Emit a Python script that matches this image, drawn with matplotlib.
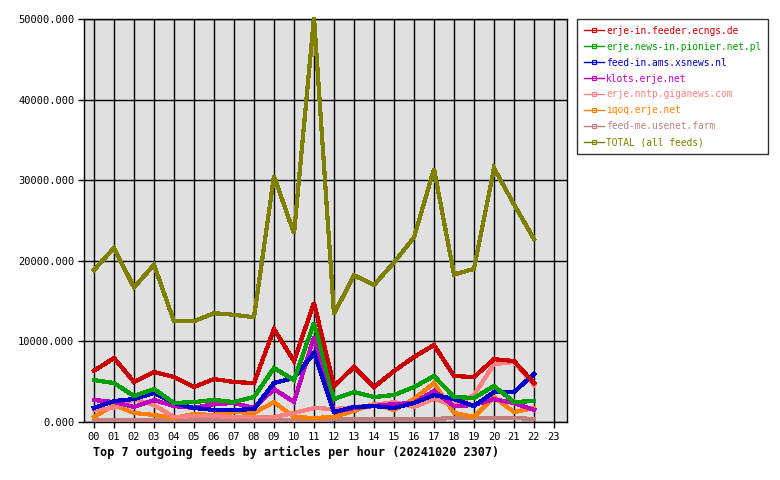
import matplotlib
matplotlib.use("Agg")
import matplotlib.pyplot as plt
from matplotlib.lines import Line2D

# hours on the x axis
HOURS = [f"{h:02d}" for h in range(24)]

# articles per hour (hours 00..22)
ecngs = [6360, 7930, 4960, 6200, 5580, 4340, 5330, 4960, 4840, 11530, 7560, 14800,
         4460, 6820, 4340, 6320, 8060, 9550, 5700, 5580, 7800, 7560, 4840]
pionier = [5200, 4840, 3220, 4090, 2350, 2480, 2730, 2480, 3100, 6700, 5200, 12300,
           2850, 3720, 3100, 3350, 4340, 5700, 3100, 2980, 4460, 2480, 2600]
xsnews = [1740, 2600, 2850, 3600, 2350, 1740, 1490, 1490, 1610, 4840, 5460, 8560,
          1240, 1860, 1980, 1740, 2350, 3350, 2850, 1980, 3720, 3720, 5950]
klots = [2730, 2480, 1860, 2730, 1980, 1740, 2230, 2350, 1740, 4090, 2480, 10540,
         1240, 1740, 1980, 2230, 2350, 3840, 1980, 2100, 2850, 2350, 1490]
giganews = [1490, 1740, 2850, 2100, 620, 740, 740, 620, 620, 620, 1120, 1740,
            1610, 1860, 2100, 2480, 1860, 2850, 2100, 3350, 7190, 7440, 4590]
iqoq = [620, 2100, 1120, 870, 500, 990, 870, 1240, 1120, 2480, 620, 500,
        620, 1360, 2230, 1490, 2850, 4840, 1120, 620, 3100, 1240, 1740]
usenet_farm = [250, 250, 250, 250, 250, 250, 250, 250, 250, 250, 250, 250,
               370, 370, 370, 370, 370, 370, 500, 500, 500, 500, 370]
total = [18850, 21600, 16700, 19500, 12500, 12500, 13500, 13300, 13000, 30500, 23400, 50200,
         13400, 18200, 17000, 19800, 22900, 31400, 18300, 19000, 31500, 27000, 22700]

NAMES = ["erje-in.feeder.ecngs.de", "erje.news-in.pionier.net.pl", "feed-in.ams.xsnews.nl",
         "klots.erje.net", "erje.nntp.giganews.com", "iqoq.erje.net",
         "feed-me.usenet.farm", "TOTAL (all feeds)"]
SERIES = [ecngs, pionier, xsnews, klots, giganews, iqoq, usenet_farm, total]
COLORS = ["#cc0000", "#00a000", "#0000cc", "#c000c0", "#ff8080", "#ff8000",
          "#c08080", "#808000"]

MONO = "DejaVu Sans Mono"

fig = plt.figure(figsize=(7.8, 4.8), dpi=100)
ax = fig.add_axes([84 / 780, 1 - 422 / 480, (567 - 84) / 780, (422 - 19) / 480])
ax.set_facecolor("#e0e0e0")

# draw feeds from the last one up so the first sits on top, like the original
for vals, col in reversed(list(zip(SERIES, COLORS))):
    ax.plot(range(len(vals)), vals, color=col, lw=2.3, solid_joinstyle="miter",
            antialiased=False, zorder=3, clip_on=False)

ax.set_xlim(-0.5, 23.65)
ax.set_ylim(0, 50000)
ax.set_xticks(range(24))
ax.set_xticklabels(HOURS, fontfamily=MONO, fontsize=7.5)
ax.set_yticks(range(0, 50001, 10000))
ax.set_yticklabels([f"{v:.3f}" for v in range(0, 50001, 10000)], fontfamily=MONO, fontsize=7.5)
ax.tick_params(length=4, width=1, color="black", pad=3)
ax.grid(True, color="black", lw=1, zorder=1)
ax.set_axisbelow(True)
for s in ax.spines.values():
    s.set_color("black")
    s.set_linewidth(1)

handles = [Line2D([0], [0], color=c, lw=1, marker="s", markersize=2.5,
                  fillstyle="none", markeredgewidth=0.8) for c in COLORS]
leg = fig.legend(handles, NAMES, loc="upper left", bbox_to_anchor=(577 / 780, 1 - 19 / 480),
                 prop={"family": MONO, "size": 6.9}, frameon=True, fancybox=False,
                 edgecolor="black", handlelength=2.1, handletextpad=0.25,
                 labelspacing=0.62, borderpad=0.7, borderaxespad=0)
leg.get_frame().set_linewidth(1)
for txt, c in zip(leg.get_texts(), COLORS):
    txt.set_color(c)

fig.text(93 / 780, 1 - 452 / 480, "Top 7 outgoing feeds by articles per hour (20241020 2307)",
         fontfamily=MONO, fontsize=8.45, fontweight="bold", va="center", ha="left")

fig.savefig("out.png", dpi=100)
